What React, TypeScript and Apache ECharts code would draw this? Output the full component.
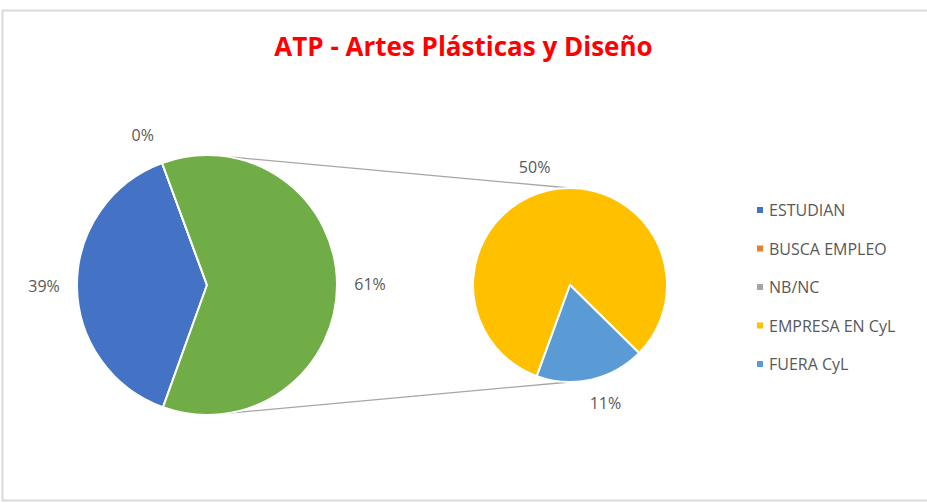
import React, { useEffect, useRef } from "react";
import * as echarts from "echarts";

const TITLE = "ATP - Artes Plásticas y Diseño";
const categories = ["ESTUDIAN", "BUSCA EMPLEO", "NB/NC", "EMPRESA EN CyL", "FUERA CyL"];
const counts = [7, 0, 0, 9, 2];
const colors = ["#4472C4", "#ED7D31", "#A5A5A5", "#FFC000", "#5B9BD5"];
const OTHER_NAME = "Otros";
const OTHER_COLOR = "#70AD47";
const firstPieCount = 3; // first three categories stay in the main pie

const FONT = "Open Sans";

export default function App() {
  const ref = useRef<HTMLDivElement>(null);
  useEffect(() => {
    if (!ref.current) return;
    const chart = echarts.init(ref.current, null, { renderer: "svg" });
    const total = counts.reduce((a, b) => a + b, 0);

    const main = categories.slice(0, firstPieCount).map((n, i) => ({
      name: n,
      value: counts[i],
      itemStyle: { color: colors[i] },
      label: { show: n !== "NB/NC" },
    }));
    const otherValue = counts.slice(firstPieCount).reduce((a, b) => a + b, 0);
    main.push({ name: OTHER_NAME, value: otherValue, itemStyle: { color: OTHER_COLOR }, label: { show: true } });
    const sub = categories.slice(firstPieCount).map((n, k) => ({
      name: n,
      value: counts[firstPieCount + k],
      itemStyle: { color: colors[firstPieCount + k] },
    }));

    const W = 927;
    const p1 = { cx: 207, cy: 285, r: 130, start: 250.2, off: 33, shift: 3 };
    const p2 = { cx: 570, cy: 285, r: 97, start: 250, off: 26, shift: 4 };

    const makeLayout = (p: any, vals: number[]) => (params: any) => {
      const i = params.dataIndex;
      const sum = vals.reduce((a, b) => a + b, 0);
      let cum = 0;
      for (let k = 0; k < i; k++) cum += vals[k];
      let mid = p.start - ((cum + vals[i] / 2) / sum) * 360;
      // Excel nudges labels slightly towards the horizontal
      const s = Math.sin((mid * Math.PI) / 180);
      const c = Math.cos((mid * Math.PI) / 180);
      if (Math.abs(s) > 0.9) mid += (c < 0 ? 1 : -1) * Math.sign(s) * p.shift;
      const rad = (mid * Math.PI) / 180;
      const d = p.r + p.off;
      return {
        x: p.cx + d * Math.cos(rad),
        y: p.cy - d * Math.sin(rad),
        align: "center",
        verticalAlign: "middle",
      };
    };

    const pct = (v: number) => Math.round((v / total) * 100) + "%";
    const labelStyle = {
      position: "outside",
      formatter: (pp: any) => pct(pp.value),
      color: "#595959",
      fontSize: 16,
      fontFamily: FONT,
    };

    const pt = (p: any, ang: number) => {
      const a = (ang * Math.PI) / 180;
      return [p.cx + p.r * Math.cos(a), p.cy - p.r * Math.sin(a)];
    };
    const t1 = pt(p1, 80), t2 = pt(p2, 90), b1 = pt(p1, -80), b2 = pt(p2, -90);

    chart.setOption({
      animation: false,
      backgroundColor: "#ffffff",
      title: {
        text: TITLE,
        left: "center",
        top: 28,
        textStyle: { color: "#FF0000", fontSize: 26, fontWeight: "bold", fontFamily: FONT },
      },
      legend: {
        orient: "vertical",
        left: 750,
        top: 196,
        icon: "rect",
        itemWidth: 8,
        itemHeight: 8,
        itemGap: 20.5,
        data: categories,
        textStyle: { color: "#595959", fontSize: 16, fontFamily: FONT, lineHeight: 18 },
        selectedMode: false,
      },
      graphic: [
        {
          type: "rect",
          shape: { x: 2.5, y: 10.5, width: W + 20, height: 490 },
          style: { fill: "none", stroke: "#d9d9d9", lineWidth: 2 },
          silent: true,
          z: -10,
        },
        {
          type: "line",
          shape: { x1: t1[0], y1: t1[1], x2: t2[0], y2: t2[1] },
          style: { stroke: "#a6a6a6", lineWidth: 1.3 },
          silent: true,
        },
        {
          type: "line",
          shape: { x1: b1[0], y1: b1[1], x2: b2[0], y2: b2[1] },
          style: { stroke: "#a6a6a6", lineWidth: 1.3 },
          silent: true,
        },
      ],
      series: [
        {
          type: "pie",
          center: [p1.cx, p1.cy],
          radius: p1.r,
          startAngle: p1.start,
          clockwise: true,
          avoidLabelOverlap: false,
          data: main,
          itemStyle: { borderColor: "#ffffff", borderWidth: 2 },
          label: labelStyle,
          labelLine: { show: false },
          labelLayout: makeLayout(p1, main.map((d) => d.value)),
          emphasis: { disabled: true },
        },
        {
          type: "pie",
          center: [p2.cx, p2.cy],
          radius: p2.r,
          startAngle: p2.start,
          clockwise: true,
          avoidLabelOverlap: false,
          data: sub,
          itemStyle: { borderColor: "#ffffff", borderWidth: 2 },
          label: labelStyle,
          labelLine: { show: false },
          labelLayout: makeLayout(p2, sub.map((d) => d.value)),
          emphasis: { disabled: true },
        },
      ],
    });
    return () => chart.dispose();
  }, []);
  return (
    <div
      ref={ref}
      style={{ position: "fixed", left: 0, top: 0, width: 927, height: 503 }}
    />
  );
}
